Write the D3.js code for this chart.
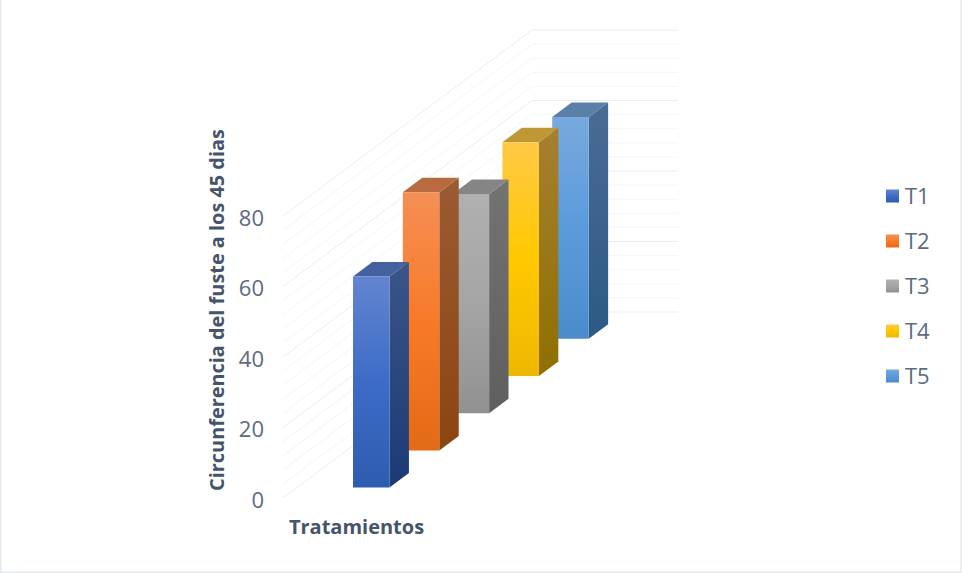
<!DOCTYPE html>
<html>
<head>
<meta charset="utf-8">
<script src="https://cdnjs.cloudflare.com/ajax/libs/d3/7.8.5/d3.min.js"></script>
<style>
  html, body { margin: 0; padding: 0; background: #fff; }
  svg { display: block; }
  text { font-family: "Open Sans", sans-serif; }
</style>
</head>
<body>
<script>
// Circumference per treatment, in depth order from front to back
const categories = ["T1", "T2", "T3", "T4", "T5"];
const values = [59.9, 73.2, 62.2, 66.3, 62.9];
const ticks = [0, 20, 40, 60, 80];
const yTitle = "Circunferencia del fuste a los 45 dias";
const xTitle = "Tratamientos";

// Per-series shades: front face (top, middle, bottom), side face (top, bottom), cap
const shades = {
  T1: { front: ["#6285d0", "#3c6cc8", "#2e5cb0"], side: ["#3b5589", "#1b3a75"], cap: "#45609e" },
  T2: { front: ["#f58f55", "#f87a28", "#e56a15"], side: ["#9c5a33", "#8a4510"], cap: "#b96b40" },
  T3: { front: ["#b0b0b0", "#a5a5a5", "#919191"], side: ["#737373", "#5f5f5f"], cap: "#858585" },
  T4: { front: ["#ffc945", "#ffc800", "#efb800"], side: ["#a58030", "#8f6f00"], cap: "#bf9835" },
  T5: { front: ["#77a9dd", "#5a9bdc", "#4a8ccb"], side: ["#4a6c94", "#2b5a85"], cap: "#5a80aa" }
};

const width = 962, height = 573;
const svg = d3.select("body").append("svg").attr("width", width).attr("height", height);
const defs = svg.append("defs");

// Oblique projection: a point is (x across, v value, d depth slot)
const origin = { x: 283, y: 498 };
const y = d3.scaleLinear().domain([0, 80]).range([0, 282]);
const depthX = d3.scaleLinear().domain([0, 5]).range([0, 249]);
const depthY = d3.scaleLinear().domain([0, 5]).range([0, -186]);
const across = d3.scaleLinear().domain([0, 1]).range([0, 146]);
const project = (a, v, d) => [
  origin.x + across(a) + depthX(d),
  origin.y - y(v) + depthY(d)
];
const poly = pts => d3.line()(pts) + "Z";

// Wall gridlines: every 4 units, stronger every 20
const gridValues = d3.range(0, 81, 4);
const grid = svg.append("g").attr("fill", "none");
grid.selectAll("path").data(gridValues).join("path")
  .attr("d", v => d3.line()([project(0, v, 0), project(0, v, 5), project(1, v, 5)]))
  .attr("stroke", v => v % 20 === 0 ? "#ecefef" : "#f4f6f6")
  .attr("stroke-width", 1);

// Vertical gradients for every visible face
const addGradient = (id, stops) => {
  const g = defs.append("linearGradient").attr("id", id)
    .attr("x1", 0).attr("y1", 0).attr("x2", 0).attr("y2", 1);
  stops.forEach((c, i) => g.append("stop")
    .attr("offset", i / (stops.length - 1)).attr("stop-color", c));
};
categories.forEach(c => {
  addGradient("front-" + c, shades[c].front);
  addGradient("side-" + c, shades[c].side);
});

// Bars, painted back to front so nearer ones overlap farther ones
const barLeft = 0.384, barRight = 0.634;
const barStart = 0.28, barDepth = 0.39;
const series = categories.map((c, i) => ({ c, i, v: values[i] })).reverse();
const bars = svg.append("g").selectAll("g").data(series).join("g");

bars.append("path")
  .attr("fill", d => `url(#side-${d.c})`)
  .attr("d", d => {
    const d0 = d.i + barStart, d1 = d0 + barDepth;
    return poly([project(barRight, 0, d0), project(barRight, d.v, d0), project(barRight, d.v, d1), project(barRight, 0, d1)]);
  });
bars.append("path")
  .attr("fill", d => shades[d.c].cap)
  .attr("d", d => {
    const d0 = d.i + barStart, d1 = d0 + barDepth;
    return poly([project(barLeft, d.v, d0), project(barRight, d.v, d0), project(barRight, d.v, d1), project(barLeft, d.v, d1)]);
  });
bars.append("path")
  .attr("fill", d => `url(#front-${d.c})`)
  .attr("d", d => {
    const d0 = d.i + barStart;
    return poly([project(barLeft, 0, d0), project(barRight, 0, d0), project(barRight, d.v, d0), project(barLeft, d.v, d0)]);
  });

// Value axis along the front edge of the wall
const axisScale = d3.scaleLinear().domain([0, 80]).range([origin.y + 2, origin.y + 2 - y(80)]);
const axis = svg.append("g")
  .attr("transform", `translate(${origin.x - 19},0)`)
  .call(d3.axisLeft(axisScale).tickValues(ticks).tickSize(0).tickPadding(0));
axis.select(".domain").remove();
axis.selectAll("text")
  .attr("fill", "#5b6b82")
  .attr("font-size", 22)
  .style("font-family", '"Open Sans", sans-serif');

// Axis titles
svg.append("text")
  .attr("transform", "translate(224,310) rotate(-90)")
  .attr("text-anchor", "middle")
  .attr("font-size", 19.9)
  .attr("font-weight", 700)
  .attr("fill", "#44546a")
  .text(yTitle);
svg.append("text")
  .attr("x", 356.5).attr("y", 534)
  .attr("text-anchor", "middle")
  .attr("font-size", 20)
  .attr("font-weight", 700)
  .attr("fill", "#44546a")
  .text(xTitle);

// Legend
const legendY = d3.scalePoint().domain(categories).range([196, 376]);
const legend = svg.append("g").selectAll("g").data(categories).join("g")
  .attr("transform", c => `translate(886,${legendY(c)})`);
legend.append("rect")
  .attr("x", 0).attr("y", -6.5).attr("width", 13).attr("height", 13)
  .attr("fill", c => `url(#front-${c})`);
legend.append("text")
  .attr("x", 19).attr("dy", "0.35em")
  .attr("font-size", 22)
  .attr("fill", "#5b6b82")
  .text(c => c);

// Thin frame along the left, right and bottom edges of the page
svg.append("path")
  .attr("d", `M0.5,0V${height - 0.5}H${width - 0.5}V0`)
  .attr("fill", "none")
  .attr("stroke", "#e6eaf0")
  .attr("stroke-width", 2);
</script>
</body>
</html>
